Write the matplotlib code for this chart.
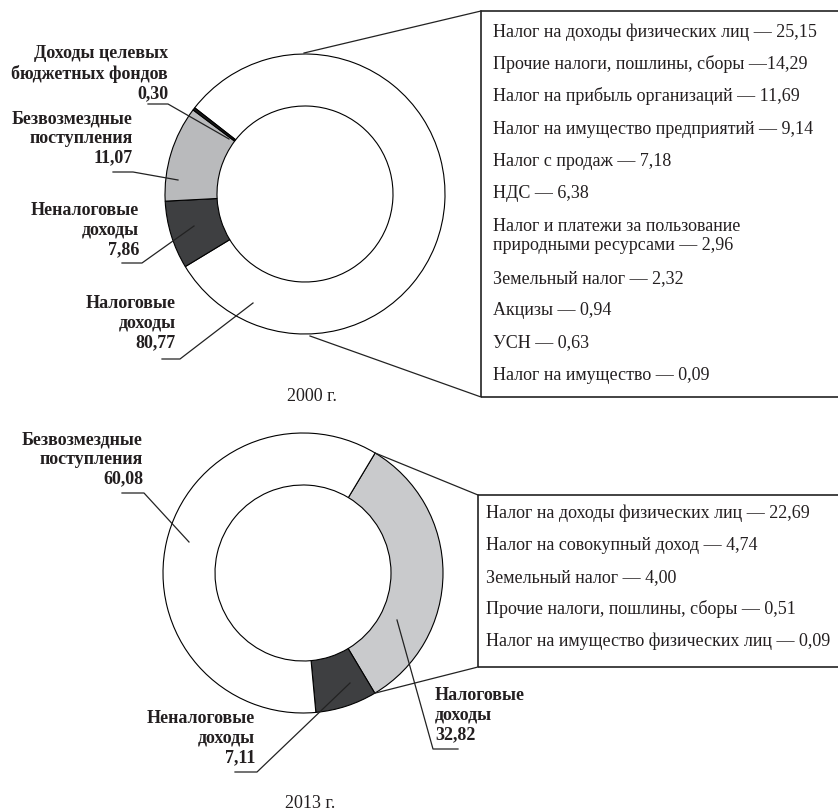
import numpy as np
import matplotlib
matplotlib.use('Agg')
import matplotlib.pyplot as plt
from matplotlib.patches import Rectangle

plt.rcParams['font.family'] = ['Liberation Serif', 'DejaVu Serif']

# 2000 year
groups_2000 = ['Налоговые\nдоходы', 'Неналоговые\nдоходы', 'Безвозмездные\nпоступления',
               'Доходы целевых\nбюджетных фондов']
values_2000 = [80.77, 7.86, 11.07, 0.30]
labels_2000 = ['80,77', '7,86', '11,07', '0,30']
colors_2000 = ['white', '#3e3f41', '#b9babc', '#1a1a1a']
taxes_2000 = ['Налог на доходы физических лиц — 25,15',
              'Прочие налоги, пошлины, сборы —14,29',
              'Налог на прибыль организаций — 11,69',
              'Налог на имущество предприятий — 9,14',
              'Налог с продаж — 7,18',
              'НДС — 6,38',
              'Налог и платежи за пользование\nприродными ресурсами — 2,96',
              'Земельный налог — 2,32',
              'Акцизы — 0,94',
              'УСН — 0,63',
              'Налог на имущество — 0,09']

# 2013 year
groups_2013 = ['Налоговые\nдоходы', 'Неналоговые\nдоходы', 'Безвозмездные\nпоступления']
values_2013 = [32.82, 7.11, 60.08]
labels_2013 = ['32,82', '7,11', '60,08']
colors_2013 = ['#c9cacc', '#3e3f41', 'white']
taxes_2013 = ['Налог на доходы физических лиц — 22,69',
              'Налог на совокупный доход — 4,74',
              'Земельный налог — 4,00',
              'Прочие налоги, пошлины, сборы — 0,51',
              'Налог на имущество физических лиц — 0,09']

W, H = 838, 811
fig = plt.figure(figsize=(W / 100, H / 100), dpi=100)
ax = fig.add_axes([0, 0, 1, 1])

def Y(y):
    return H - y

FS = 13
TC = '#231f20'
LC = '#222222'
LS = 20  # line step of wrapped text, px
wp = dict(width=52, edgecolor='black', linewidth=0.8)

# donuts
R = 140
c1 = (305, Y(194))
c2 = (303, Y(573))
ax.pie(values_2000, colors=colors_2000, startangle=142, counterclock=False,
       radius=R, center=c1, wedgeprops=wp, frame=True)
w2, _ = ax.pie(values_2013, colors=colors_2013, startangle=59, counterclock=False,
               radius=R, center=c2, wedgeprops=wp, frame=True)

# callout boxes
ax.add_patch(Rectangle((481, Y(397)), 400, 386, fill=False, lw=1.2, ec=LC))
ax.plot([304, 481], [Y(53), Y(11)], color=LC, lw=0.9)
ax.plot([310, 481], [Y(336), Y(397)], color=LC, lw=0.9)

ax.add_patch(Rectangle((478, Y(667)), 400, 172, fill=False, lw=1.2, ec=LC))
t_hi = np.deg2rad(max(w2[0].theta1, w2[0].theta2))
t_lo = np.deg2rad(min(w2[0].theta1, w2[0].theta2))
ax.plot([c2[0] + R * np.cos(t_hi), 478], [c2[1] + R * np.sin(t_hi), Y(495)], color=LC, lw=0.9)
ax.plot([c2[0] + R * np.cos(t_lo), 478], [c2[1] + R * np.sin(t_lo), Y(667)], color=LC, lw=0.9)

# baseline alignment of multi-line text uses the last line
y = 36.7
for t in taxes_2000:
    n = t.count('\n')
    ax.text(493, Y(y + LS * n), t, fontsize=FS, va='baseline', ha='left',
            linespacing=1.2, color=TC)
    y += 32.3 + LS * n
y = 518
for t in taxes_2013:
    ax.text(486, Y(y), t, fontsize=FS, va='baseline', ha='left', color=TC)
    y += 32

# group labels with leader lines:
# text x, first baseline, underline x0, x1, underline y, target x, y
lab_2000 = [(176, 307, 162, 180, 359, 253, 303, 'right'),
            (139, 214, 122, 142, 263, 194, 226, 'right'),
            (133, 122, 113, 133, 172, 178, 180, 'right'),
            (168, 58, 148, 168, 104, 229, 139, 'right')]
lab_2013 = [(435, 699, 458, 433, 749, 397, 620, 'left'),
            (255, 722, 235, 257, 772, 350, 683, 'right'),
            (143, 443, 122, 144, 493, 189, 542, 'right')]

for groups, labels, lab in [(groups_2000, labels_2000, lab_2000),
                            (groups_2013, labels_2013, lab_2013)]:
    for g, v, (x, ty, u0, u1, uy, px, py, ha) in zip(groups, labels, lab):
        txt = g + '\n' + v
        ax.text(x, Y(ty + LS * txt.count('\n')), txt, fontsize=FS, fontweight='bold',
                ha=ha, va='baseline', multialignment=ha, linespacing=1.18, color=TC)
        ax.plot([u0, u1, px], [Y(uy), Y(uy), Y(py)], color=LC, lw=0.9)

ax.text(312, Y(401), '2000 г.', fontsize=FS, ha='center', va='baseline', color=TC)
ax.text(310, Y(808), '2013 г.', fontsize=FS, ha='center', va='baseline', color=TC)

ax.set_xlim(0, W)
ax.set_ylim(0, H)
ax.set_aspect('auto')
ax.axis('off')

fig.savefig('out.png', dpi=100)
